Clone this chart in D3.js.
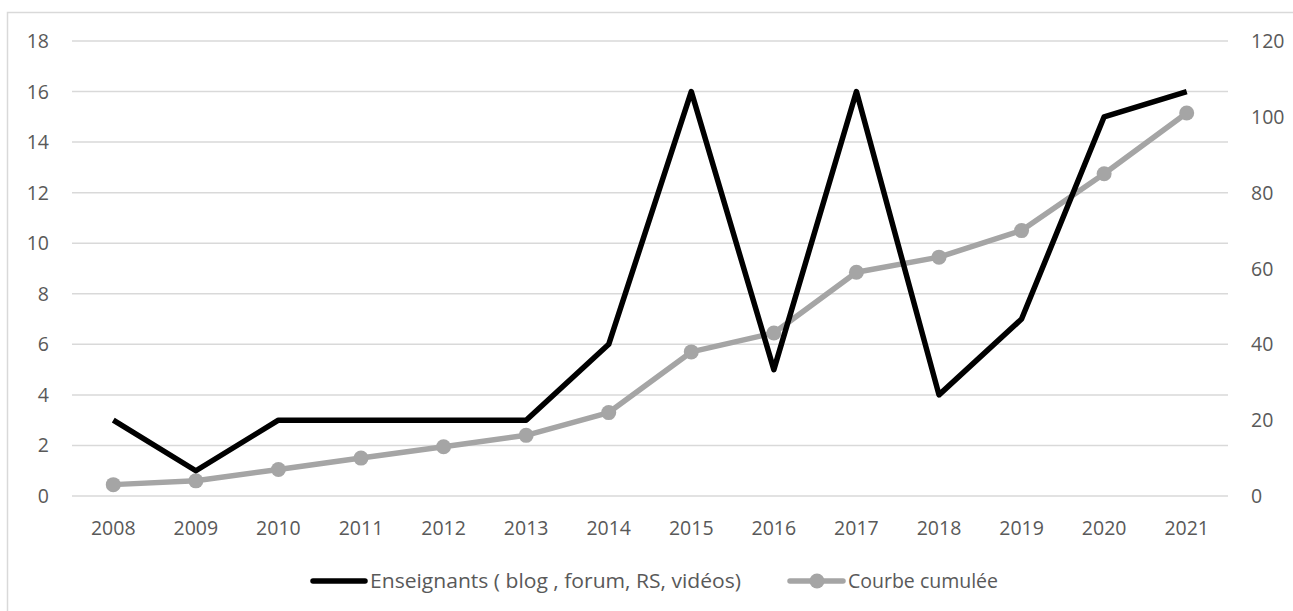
<!DOCTYPE html>
<html>
<head>
<meta charset="utf-8">
<script src="https://cdn.jsdelivr.net/npm/d3@7"></script>
<style>
  body { margin: 0; background: #fff; }
  text { font-family: "Open Sans", "Noto Sans", sans-serif; fill: #595959; }
</style>
</head>
<body>
<svg id="chart" width="1293" height="611"></svg>
<script>
// data
var years = ["2008","2009","2010","2011","2012","2013","2014","2015","2016","2017","2018","2019","2020","2021"];
var enseignants = [3, 1, 3, 3, 3, 3, 6, 16, 5, 16, 4, 7, 15, 16];
var cumulee = [3, 4, 7, 10, 13, 16, 22, 38, 43, 59, 63, 70, 85, 101];
var leftTicks = [0, 2, 4, 6, 8, 10, 12, 14, 16, 18];
var rightTicks = [0, 20, 40, 60, 80, 100, 120];
var seriesNames = ["Enseignants ( blog , forum, RS, vidéos)", "Courbe cumulée"];

var svg = d3.select("#chart");

// chart frame
svg.append("rect")
  .attr("x", 7.5).attr("y", 12.5)
  .attr("width", 1300).attr("height", 620)
  .attr("fill", "none").attr("stroke", "#d9d9d9").attr("stroke-width", 1.5);

var plotL = 72, plotR = 1228, plotT = 41, plotB = 496;

var x = d3.scaleBand().domain(years).range([plotL, plotR]);
var yL = d3.scaleLinear().domain([0, 18]).range([plotB, plotT]);
var yR = d3.scaleLinear().domain([0, 120]).range([plotB, plotT]);

// gridlines
svg.append("g").selectAll("line")
  .data(leftTicks)
  .join("line")
  .attr("x1", plotL).attr("x2", plotR)
  .attr("y1", function(d){ return yL(d); })
  .attr("y2", function(d){ return yL(d); })
  .attr("stroke", "#d9d9d9").attr("stroke-width", 1.5);

// left axis labels
svg.append("g").selectAll("text")
  .data(leftTicks)
  .join("text")
  .attr("x", 49).attr("y", function(d){ return yL(d); })
  .attr("dy", "0.36em")
  .attr("text-anchor", "end")
  .attr("font-size", 19.5)
  .text(function(d){ return d; });

// right axis labels
svg.append("g").selectAll("text")
  .data(rightTicks)
  .join("text")
  .attr("x", 1251).attr("y", function(d){ return yR(d); })
  .attr("dy", "0.36em")
  .attr("text-anchor", "start")
  .attr("font-size", 19.5)
  .text(function(d){ return d; });

// x labels
svg.append("g").selectAll("text")
  .data(years)
  .join("text")
  .attr("x", function(d){ return x(d) + x.bandwidth() / 2; })
  .attr("y", 528)
  .attr("dy", "0.36em")
  .attr("text-anchor", "middle")
  .attr("font-size", 19.5)
  .text(function(d){ return d; });

var cx = function(d, i){ return x(years[i]) + x.bandwidth() / 2; };

// cumulative line (grey, right axis)
var lineR = d3.line().x(cx).y(function(d){ return yR(d); });
svg.append("path")
  .datum(cumulee)
  .attr("d", lineR)
  .attr("fill", "none")
  .attr("stroke", "#a5a5a5")
  .attr("stroke-width", 5.5)
  .attr("stroke-linejoin", "round");
svg.append("g").selectAll("circle")
  .data(cumulee)
  .join("circle")
  .attr("cx", cx)
  .attr("cy", function(d){ return yR(d); })
  .attr("r", 7.5)
  .attr("fill", "#a5a5a5");

// teachers line (black, left axis)
var lineL = d3.line().x(cx).y(function(d){ return yL(d); });
svg.append("path")
  .datum(enseignants)
  .attr("d", lineL)
  .attr("fill", "none")
  .attr("stroke", "#000")
  .attr("stroke-width", 5.5)
  .attr("stroke-linejoin", "round");

// legend
var leg = svg.append("g");
leg.append("line")
  .attr("x1", 313).attr("x2", 365).attr("y1", 581).attr("y2", 581)
  .attr("stroke", "#000").attr("stroke-width", 5.5).attr("stroke-linecap", "round");
leg.append("text")
  .attr("x", 370).attr("y", 581).attr("dy", "0.36em")
  .attr("font-size", 19.5)
  .attr("textLength", 371).attr("lengthAdjust", "spacingAndGlyphs")
  .text(seriesNames[0]);
leg.append("line")
  .attr("x1", 790).attr("x2", 843).attr("y1", 581).attr("y2", 581)
  .attr("stroke", "#a5a5a5").attr("stroke-width", 5.5).attr("stroke-linecap", "round");
leg.append("circle")
  .attr("cx", 817).attr("cy", 581).attr("r", 7.5)
  .attr("fill", "#a5a5a5");
leg.append("text")
  .attr("x", 848).attr("y", 581).attr("dy", "0.36em")
  .attr("font-size", 19.5)
  .text(seriesNames[1]);
</script>
</body>
</html>
